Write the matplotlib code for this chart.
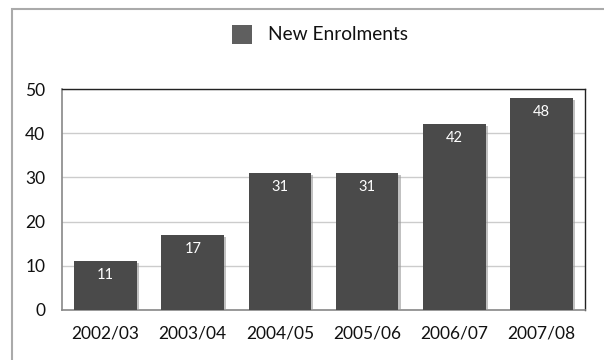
import matplotlib
matplotlib.use('Agg')
import matplotlib.pyplot as plt
import matplotlib.patheffects as pe
from matplotlib.patches import Rectangle

years = ['2002/03', '2003/04', '2004/05', '2005/06', '2006/07', '2007/08']
enrolments = [11, 17, 31, 31, 42, 48]
yticks = [0, 10, 20, 30, 40, 50]

plt.rcParams['font.family'] = ['Lato', 'DejaVu Sans']

fig = plt.figure(figsize=(6.04, 3.6), dpi=100)
fig.patch.set_facecolor('white')

# outer frame (runs off the right and bottom edges)
fig.patches.append(Rectangle((12 / 604, -0.1), 1.0, 1.1 - 9 / 360,
                             transform=fig.transFigure, fill=False,
                             edgecolor='#aaaaaa', lw=1.5))

ax = fig.add_axes([62 / 604, 1 - 310 / 360, (585 - 62) / 604, (310 - 89) / 360])
x = range(len(years))
shadow = pe.SimplePatchShadow(offset=(1.5, -1.5), shadow_rgbFace='#999999', alpha=0.6)
ax.bar(x, enrolments, width=0.72, color='#4a4a4a', zorder=3,
       path_effects=[shadow, pe.Normal()])

for xi, v in zip(x, enrolments):
    ax.annotate(str(v), (xi, v), xytext=(0, -10), textcoords='offset points',
                ha='center', va='center', color='white', fontsize=10.5, zorder=4)

ax.set_xlim(-0.5, len(years) - 0.5)
ax.set_ylim(0, 50)
ax.set_yticks(yticks)
ax.set_xticks(list(x))
ax.set_xticklabels(years)
ax.tick_params(axis='both', length=0, labelsize=12.5, colors='#111111')
ax.tick_params(axis='y', pad=12)
ax.tick_params(axis='x', pad=11)
ax.grid(axis='y', color='#cccccc', lw=1, zorder=0)
for s in ['top', 'right']:
    ax.spines[s].set_color('#222222')
    ax.spines[s].set_linewidth(1)
for s in ['left', 'bottom']:
    ax.spines[s].set_color('#888888')
    ax.spines[s].set_linewidth(1.2)

# legend
fig.patches.append(Rectangle((232 / 604, 1 - 44 / 360), 20 / 604, 19 / 360,
                             transform=fig.transFigure, facecolor='#5f5f5f', edgecolor='none'))
fig.text(268 / 604, 1 - 34 / 360, 'New Enrolments', ha='left', va='center',
         fontsize=13.8, color='#111111')

fig.savefig('out.png', dpi=100)
